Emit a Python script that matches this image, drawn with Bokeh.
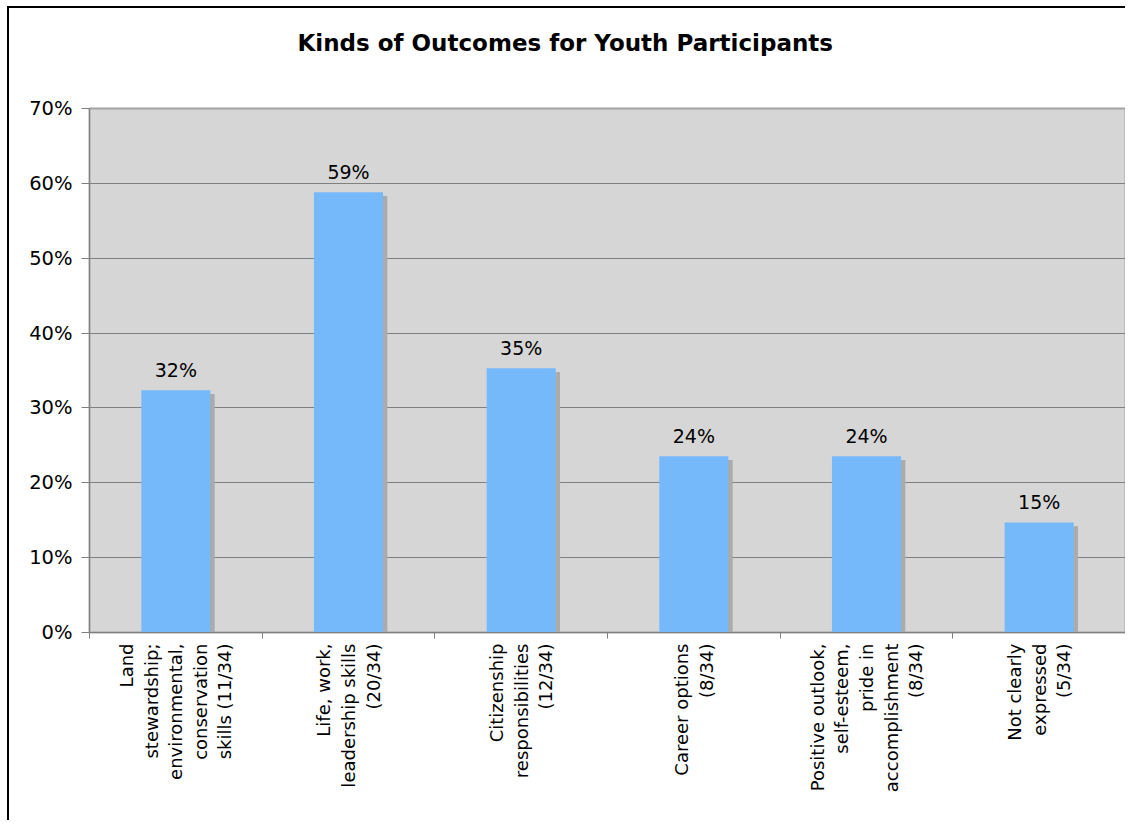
import numpy as np
from bokeh.plotting import figure
from bokeh.models import ColumnDataSource, FixedTicker, Range1d, PrintfTickFormatter, Title
from bokeh.transform import dodge
from bokeh.core.properties import value
from bokeh.embed import file_html
from bokeh.resources import INLINE

title_text = "Kinds of Outcomes for Youth Participants"
categories = [
    "Land\nstewardship;\nenvironmental,\nconservation\nskills (11/34)",
    "Life, work,\nleadership skills\n(20/34)",
    "Citizenship\nresponsibilities\n(12/34)",
    "Career options\n(8/34)",
    "Positive outlook,\nself-esteem,\npride in\naccomplishment\n(8/34)",
    "Not clearly\nexpressed\n(5/34)",
]
counts = [11, 20, 12, 8, 8, 5]
total = 34
y_ticks = [0, 10, 20, 30, 40, 50, 60, 70]

pct = [c / total * 100 for c in counts]
xs = list(np.arange(len(counts)) + 0.5)
labels = ["%d%%" % round(v) for v in pct]

src = ColumnDataSource(dict(x=xs, pct=pct, label=labels))

FONT = "DejaVu Sans"

p = figure(width=1116, height=812, output_backend="svg", toolbar_location=None,
           x_range=Range1d(0, len(counts)), y_range=Range1d(0, 70),
           min_border_left=80, min_border_right=2, min_border_top=100, min_border_bottom=190)
p.styles = {"position": "absolute", "left": "7px", "top": "6px", "box-sizing": "content-box",
            "border-left": "2px solid black", "border-top": "2px solid black",
            "border-right": "none", "border-bottom": "none"}

p.background_fill_color = "#d6d6d6"
p.border_fill_color = "white"
p.outline_line_color = "#a3a3a3"
p.outline_line_width = 2

# spacer between frame and title
p.add_layout(Title(text=" ", text_font_size="1px", standoff=45), "above")
p.title.text = title_text
p.title.align = "left"
p.title.text_font = FONT
p.title.text_font_size = "23px"
p.title.text_font_style = "bold"
p.title.text_color = "black"
p.title.offset = 208
p.title.standoff = 10

# shadow
p.vbar(x=dodge("x", 0.025), top=dodge("pct", -0.5), width=0.4, bottom=0,
       source=src, fill_color="#ababab", line_color=None)
p.vbar(x="x", top="pct", width=0.4, bottom=0, source=src,
       fill_color="#75b9fa", line_color=None)
p.text(x="x", y="pct", text="label", source=src, text_align="center",
       text_baseline="bottom", y_offset=-9, text_font=value(FONT),
       text_font_size="19px", text_color="black")

p.xgrid.grid_line_color = None
p.ygrid.grid_line_color = "#808080"
p.ygrid.ticker = FixedTicker(ticks=y_ticks)

p.yaxis.ticker = FixedTicker(ticks=y_ticks)
p.yaxis.formatter = PrintfTickFormatter(format="%d%%")
p.yaxis.axis_line_color = "#808080"
p.yaxis.major_tick_line_color = "#808080"
p.yaxis.major_tick_out = 8
p.yaxis.major_tick_in = 0
p.yaxis.minor_tick_line_color = None
p.yaxis.major_label_text_font = FONT
p.yaxis.major_label_text_font_size = "19.5px"
p.yaxis.major_label_text_color = "black"
p.yaxis.major_label_standoff = 9

p.xaxis.ticker = FixedTicker(ticks=xs, minor_ticks=list(range(len(counts) + 1)))
p.xaxis.major_label_overrides = {x: c for x, c in zip(xs, categories)}
p.xaxis.major_label_orientation = np.pi / 2
p.xaxis.axis_line_color = "#808080"
p.xaxis.major_tick_line_color = None
p.xaxis.major_tick_out = 0
p.xaxis.major_tick_in = 0
p.xaxis.minor_tick_line_color = "#808080"
p.xaxis.minor_tick_out = 6
p.xaxis.minor_tick_in = 0
p.xaxis.major_label_text_font = FONT
p.xaxis.major_label_text_font_size = "18px"
p.xaxis.major_label_text_color = "black"
p.xaxis.major_label_text_line_height = 1.17
p.xaxis.major_label_standoff = 5

open("out.html", "w").write(file_html(p, INLINE))
